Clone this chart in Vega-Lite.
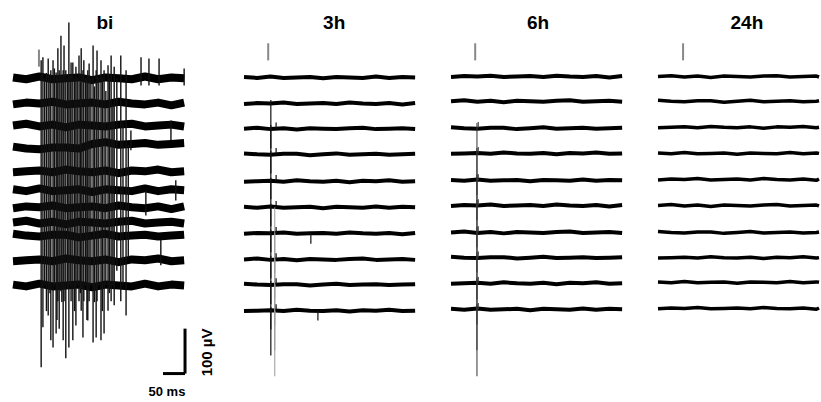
{
"$schema": "https://vega.github.io/schema/vega-lite/v6.json",
"padding": {"left": 9, "top": 13, "right": 0, "bottom": 0},
"bounds": "flush",
"spacing": 35,
"config": {"view": {"stroke": null}},
"datasets": {
"bi": [
{"s":1,"t":0,"v":0},{"s":1,"t":30,"v":-4},{"s":1,"t":60,"v":2},{"s":1,"t":90,"v":-4},{"s":1,"t":120,"v":-2},{"s":1,"t":150,"v":0},{"s":1,"t":180,"v":-6},{"s":1,"t":210,"v":0},{"s":1,"t":240,"v":-2},{"s":1,"t":270,"v":-4},{"s":1,"t":300,"v":2},{"s":1,"t":330,"v":-4},{"s":1,"t":360,"v":0},{"s":1,"t":389,"v":-2},
{"s":2,"t":0,"v":-60},{"s":2,"t":30,"v":-56},{"s":2,"t":60,"v":-58},{"s":2,"t":90,"v":-54},{"s":2,"t":120,"v":-60},{"s":2,"t":150,"v":-58},{"s":2,"t":180,"v":-56},{"s":2,"t":210,"v":-60},{"s":2,"t":240,"v":-54},{"s":2,"t":270,"v":-58},{"s":2,"t":300,"v":-60},{"s":2,"t":330,"v":-56},{"s":2,"t":360,"v":-62},{"s":2,"t":389,"v":-56},
{"s":3,"t":0,"v":-107},{"s":3,"t":30,"v":-103},{"s":3,"t":60,"v":-109},{"s":3,"t":90,"v":-105},{"s":3,"t":120,"v":-111},{"s":3,"t":150,"v":-105},{"s":3,"t":180,"v":-107},{"s":3,"t":210,"v":-109},{"s":3,"t":240,"v":-105},{"s":3,"t":270,"v":-103},{"s":3,"t":300,"v":-109},{"s":3,"t":330,"v":-107},{"s":3,"t":360,"v":-105},{"s":3,"t":389,"v":-109},
{"s":4,"t":0,"v":-154},{"s":4,"t":30,"v":-158},{"s":4,"t":60,"v":-160},{"s":4,"t":90,"v":-156},{"s":4,"t":120,"v":-156},{"s":4,"t":150,"v":-158},{"s":4,"t":180,"v":-148},{"s":4,"t":210,"v":-144},{"s":4,"t":240,"v":-150},{"s":4,"t":270,"v":-148},{"s":4,"t":300,"v":-146},{"s":4,"t":330,"v":-150},{"s":4,"t":360,"v":-148},{"s":4,"t":389,"v":-146},
{"s":5,"t":0,"v":-211},{"s":5,"t":30,"v":-209},{"s":5,"t":60,"v":-207},{"s":5,"t":90,"v":-211},{"s":5,"t":120,"v":-205},{"s":5,"t":150,"v":-209},{"s":5,"t":180,"v":-211},{"s":5,"t":210,"v":-207},{"s":5,"t":240,"v":-213},{"s":5,"t":270,"v":-207},{"s":5,"t":300,"v":-209},{"s":5,"t":330,"v":-205},{"s":5,"t":360,"v":-211},{"s":5,"t":389,"v":-209},
{"s":6,"t":0,"v":-249},{"s":6,"t":30,"v":-253},{"s":6,"t":60,"v":-247},{"s":6,"t":90,"v":-253},{"s":6,"t":120,"v":-251},{"s":6,"t":150,"v":-249},{"s":6,"t":180,"v":-255},{"s":6,"t":210,"v":-249},{"s":6,"t":240,"v":-251},{"s":6,"t":270,"v":-253},{"s":6,"t":300,"v":-247},{"s":6,"t":330,"v":-253},{"s":6,"t":360,"v":-249},{"s":6,"t":389,"v":-251},
{"s":7,"t":0,"v":-291},{"s":7,"t":30,"v":-287},{"s":7,"t":60,"v":-289},{"s":7,"t":90,"v":-285},{"s":7,"t":120,"v":-291},{"s":7,"t":150,"v":-289},{"s":7,"t":180,"v":-287},{"s":7,"t":210,"v":-291},{"s":7,"t":240,"v":-285},{"s":7,"t":270,"v":-289},{"s":7,"t":300,"v":-291},{"s":7,"t":330,"v":-287},{"s":7,"t":360,"v":-293},{"s":7,"t":389,"v":-287},
{"s":8,"t":0,"v":-323},{"s":8,"t":30,"v":-319},{"s":8,"t":60,"v":-325},{"s":8,"t":90,"v":-321},{"s":8,"t":120,"v":-327},{"s":8,"t":150,"v":-321},{"s":8,"t":180,"v":-323},{"s":8,"t":210,"v":-325},{"s":8,"t":240,"v":-321},{"s":8,"t":270,"v":-319},{"s":8,"t":300,"v":-325},{"s":8,"t":330,"v":-323},{"s":8,"t":360,"v":-321},{"s":8,"t":389,"v":-325},
{"s":9,"t":0,"v":-348},{"s":9,"t":30,"v":-352},{"s":9,"t":60,"v":-354},{"s":9,"t":90,"v":-350},{"s":9,"t":120,"v":-350},{"s":9,"t":150,"v":-356},{"s":9,"t":180,"v":-352},{"s":9,"t":210,"v":-348},{"s":9,"t":240,"v":-354},{"s":9,"t":270,"v":-352},{"s":9,"t":300,"v":-350},{"s":9,"t":330,"v":-354},{"s":9,"t":360,"v":-352},{"s":9,"t":389,"v":-350},
{"s":10,"t":0,"v":-409},{"s":10,"t":30,"v":-407},{"s":10,"t":60,"v":-405},{"s":10,"t":90,"v":-409},{"s":10,"t":120,"v":-403},{"s":10,"t":150,"v":-407},{"s":10,"t":180,"v":-409},{"s":10,"t":210,"v":-405},{"s":10,"t":240,"v":-411},{"s":10,"t":270,"v":-405},{"s":10,"t":300,"v":-407},{"s":10,"t":330,"v":-403},{"s":10,"t":360,"v":-409},{"s":10,"t":389,"v":-407},
{"s":11,"t":0,"v":-461},{"s":11,"t":30,"v":-465},{"s":11,"t":60,"v":-459},{"s":11,"t":90,"v":-465},{"s":11,"t":120,"v":-463},{"s":11,"t":150,"v":-461},{"s":11,"t":180,"v":-467},{"s":11,"t":210,"v":-461},{"s":11,"t":240,"v":-463},{"s":11,"t":270,"v":-465},{"s":11,"t":300,"v":-459},{"s":11,"t":330,"v":-465},{"s":11,"t":360,"v":-461},{"s":11,"t":389,"v":-463}
],
"h3": [
{"s":1,"t":0,"v":1},{"s":1,"t":30,"v":-1},{"s":1,"t":60,"v":2},{"s":1,"t":90,"v":-1},{"s":1,"t":120,"v":0},{"s":1,"t":150,"v":1},{"s":1,"t":180,"v":-2},{"s":1,"t":210,"v":1},{"s":1,"t":240,"v":0},{"s":1,"t":270,"v":-1},{"s":1,"t":300,"v":2},{"s":1,"t":330,"v":-1},{"s":1,"t":360,"v":1},{"s":1,"t":389,"v":0},
{"s":2,"t":0,"v":-59},{"s":2,"t":30,"v":-57},{"s":2,"t":60,"v":-58},{"s":2,"t":90,"v":-56},{"s":2,"t":120,"v":-59},{"s":2,"t":150,"v":-58},{"s":2,"t":180,"v":-57},{"s":2,"t":210,"v":-59},{"s":2,"t":240,"v":-56},{"s":2,"t":270,"v":-58},{"s":2,"t":300,"v":-59},{"s":2,"t":330,"v":-57},{"s":2,"t":360,"v":-60},{"s":2,"t":389,"v":-57},
{"s":3,"t":0,"v":-114},{"s":3,"t":30,"v":-112},{"s":3,"t":60,"v":-115},{"s":3,"t":90,"v":-113},{"s":3,"t":120,"v":-116},{"s":3,"t":150,"v":-113},{"s":3,"t":180,"v":-114},{"s":3,"t":210,"v":-115},{"s":3,"t":240,"v":-113},{"s":3,"t":270,"v":-112},{"s":3,"t":300,"v":-115},{"s":3,"t":330,"v":-114},{"s":3,"t":360,"v":-113},{"s":3,"t":389,"v":-115},
{"s":4,"t":0,"v":-169},{"s":4,"t":30,"v":-171},{"s":4,"t":60,"v":-172},{"s":4,"t":90,"v":-170},{"s":4,"t":120,"v":-170},{"s":4,"t":150,"v":-173},{"s":4,"t":180,"v":-171},{"s":4,"t":210,"v":-169},{"s":4,"t":240,"v":-172},{"s":4,"t":270,"v":-171},{"s":4,"t":300,"v":-170},{"s":4,"t":330,"v":-172},{"s":4,"t":360,"v":-171},{"s":4,"t":389,"v":-170},
{"s":5,"t":0,"v":-232},{"s":5,"t":30,"v":-231},{"s":5,"t":60,"v":-230},{"s":5,"t":90,"v":-232},{"s":5,"t":120,"v":-229},{"s":5,"t":150,"v":-231},{"s":5,"t":180,"v":-232},{"s":5,"t":210,"v":-230},{"s":5,"t":240,"v":-233},{"s":5,"t":270,"v":-230},{"s":5,"t":300,"v":-231},{"s":5,"t":330,"v":-229},{"s":5,"t":360,"v":-232},{"s":5,"t":389,"v":-231},
{"s":6,"t":0,"v":-288},{"s":6,"t":30,"v":-290},{"s":6,"t":60,"v":-287},{"s":6,"t":90,"v":-290},{"s":6,"t":120,"v":-289},{"s":6,"t":150,"v":-288},{"s":6,"t":180,"v":-291},{"s":6,"t":210,"v":-288},{"s":6,"t":240,"v":-289},{"s":6,"t":270,"v":-290},{"s":6,"t":300,"v":-287},{"s":6,"t":330,"v":-290},{"s":6,"t":360,"v":-288},{"s":6,"t":389,"v":-289},
{"s":7,"t":0,"v":-348},{"s":7,"t":30,"v":-346},{"s":7,"t":60,"v":-347},{"s":7,"t":90,"v":-345},{"s":7,"t":120,"v":-348},{"s":7,"t":150,"v":-347},{"s":7,"t":180,"v":-346},{"s":7,"t":210,"v":-348},{"s":7,"t":240,"v":-345},{"s":7,"t":270,"v":-347},{"s":7,"t":300,"v":-348},{"s":7,"t":330,"v":-346},{"s":7,"t":360,"v":-349},{"s":7,"t":389,"v":-346},
{"s":8,"t":0,"v":-405},{"s":8,"t":30,"v":-403},{"s":8,"t":60,"v":-406},{"s":8,"t":90,"v":-404},{"s":8,"t":120,"v":-407},{"s":8,"t":150,"v":-404},{"s":8,"t":180,"v":-405},{"s":8,"t":210,"v":-406},{"s":8,"t":240,"v":-404},{"s":8,"t":270,"v":-403},{"s":8,"t":300,"v":-406},{"s":8,"t":330,"v":-405},{"s":8,"t":360,"v":-404},{"s":8,"t":389,"v":-406},
{"s":9,"t":0,"v":-459},{"s":9,"t":30,"v":-461},{"s":9,"t":60,"v":-462},{"s":9,"t":90,"v":-460},{"s":9,"t":120,"v":-460},{"s":9,"t":150,"v":-463},{"s":9,"t":180,"v":-461},{"s":9,"t":210,"v":-459},{"s":9,"t":240,"v":-462},{"s":9,"t":270,"v":-461},{"s":9,"t":300,"v":-460},{"s":9,"t":330,"v":-462},{"s":9,"t":360,"v":-461},{"s":9,"t":389,"v":-460},
{"s":10,"t":0,"v":-520},{"s":10,"t":30,"v":-519},{"s":10,"t":60,"v":-518},{"s":10,"t":90,"v":-520},{"s":10,"t":120,"v":-517},{"s":10,"t":150,"v":-519},{"s":10,"t":180,"v":-520},{"s":10,"t":210,"v":-518},{"s":10,"t":240,"v":-521},{"s":10,"t":270,"v":-518},{"s":10,"t":300,"v":-519},{"s":10,"t":330,"v":-517},{"s":10,"t":360,"v":-520},{"s":10,"t":389,"v":-519}
],
"h6": [
{"s":1,"t":0,"v":1},{"s":1,"t":30,"v":3},{"s":1,"t":60,"v":2},{"s":1,"t":90,"v":4},{"s":1,"t":120,"v":1},{"s":1,"t":150,"v":2},{"s":1,"t":180,"v":3},{"s":1,"t":210,"v":1},{"s":1,"t":240,"v":4},{"s":1,"t":270,"v":2},{"s":1,"t":300,"v":1},{"s":1,"t":330,"v":3},{"s":1,"t":360,"v":0},{"s":1,"t":389,"v":3},
{"s":2,"t":0,"v":-53},{"s":2,"t":30,"v":-51},{"s":2,"t":60,"v":-54},{"s":2,"t":90,"v":-52},{"s":2,"t":120,"v":-55},{"s":2,"t":150,"v":-52},{"s":2,"t":180,"v":-53},{"s":2,"t":210,"v":-54},{"s":2,"t":240,"v":-52},{"s":2,"t":270,"v":-51},{"s":2,"t":300,"v":-54},{"s":2,"t":330,"v":-53},{"s":2,"t":360,"v":-52},{"s":2,"t":389,"v":-54},
{"s":3,"t":0,"v":-111},{"s":3,"t":30,"v":-113},{"s":3,"t":60,"v":-114},{"s":3,"t":90,"v":-112},{"s":3,"t":120,"v":-112},{"s":3,"t":150,"v":-115},{"s":3,"t":180,"v":-113},{"s":3,"t":210,"v":-111},{"s":3,"t":240,"v":-114},{"s":3,"t":270,"v":-113},{"s":3,"t":300,"v":-112},{"s":3,"t":330,"v":-114},{"s":3,"t":360,"v":-113},{"s":3,"t":389,"v":-112},
{"s":4,"t":0,"v":-170},{"s":4,"t":30,"v":-169},{"s":4,"t":60,"v":-168},{"s":4,"t":90,"v":-170},{"s":4,"t":120,"v":-167},{"s":4,"t":150,"v":-169},{"s":4,"t":180,"v":-170},{"s":4,"t":210,"v":-168},{"s":4,"t":240,"v":-171},{"s":4,"t":270,"v":-168},{"s":4,"t":300,"v":-169},{"s":4,"t":330,"v":-167},{"s":4,"t":360,"v":-170},{"s":4,"t":389,"v":-169},
{"s":5,"t":0,"v":-228},{"s":5,"t":30,"v":-230},{"s":5,"t":60,"v":-227},{"s":5,"t":90,"v":-230},{"s":5,"t":120,"v":-229},{"s":5,"t":150,"v":-228},{"s":5,"t":180,"v":-231},{"s":5,"t":210,"v":-228},{"s":5,"t":240,"v":-229},{"s":5,"t":270,"v":-230},{"s":5,"t":300,"v":-227},{"s":5,"t":330,"v":-230},{"s":5,"t":360,"v":-228},{"s":5,"t":389,"v":-229},
{"s":6,"t":0,"v":-286},{"s":6,"t":30,"v":-284},{"s":6,"t":60,"v":-285},{"s":6,"t":90,"v":-283},{"s":6,"t":120,"v":-286},{"s":6,"t":150,"v":-285},{"s":6,"t":180,"v":-284},{"s":6,"t":210,"v":-286},{"s":6,"t":240,"v":-283},{"s":6,"t":270,"v":-285},{"s":6,"t":300,"v":-286},{"s":6,"t":330,"v":-284},{"s":6,"t":360,"v":-287},{"s":6,"t":389,"v":-284},
{"s":7,"t":0,"v":-345},{"s":7,"t":30,"v":-343},{"s":7,"t":60,"v":-346},{"s":7,"t":90,"v":-344},{"s":7,"t":120,"v":-347},{"s":7,"t":150,"v":-344},{"s":7,"t":180,"v":-345},{"s":7,"t":210,"v":-346},{"s":7,"t":240,"v":-344},{"s":7,"t":270,"v":-343},{"s":7,"t":300,"v":-346},{"s":7,"t":330,"v":-345},{"s":7,"t":360,"v":-344},{"s":7,"t":389,"v":-346},
{"s":8,"t":0,"v":-399},{"s":8,"t":30,"v":-401},{"s":8,"t":60,"v":-402},{"s":8,"t":90,"v":-400},{"s":8,"t":120,"v":-400},{"s":8,"t":150,"v":-403},{"s":8,"t":180,"v":-401},{"s":8,"t":210,"v":-399},{"s":8,"t":240,"v":-402},{"s":8,"t":270,"v":-401},{"s":8,"t":300,"v":-400},{"s":8,"t":330,"v":-402},{"s":8,"t":360,"v":-401},{"s":8,"t":389,"v":-400},
{"s":9,"t":0,"v":-459},{"s":9,"t":30,"v":-458},{"s":9,"t":60,"v":-457},{"s":9,"t":90,"v":-459},{"s":9,"t":120,"v":-456},{"s":9,"t":150,"v":-458},{"s":9,"t":180,"v":-459},{"s":9,"t":210,"v":-457},{"s":9,"t":240,"v":-460},{"s":9,"t":270,"v":-457},{"s":9,"t":300,"v":-458},{"s":9,"t":330,"v":-456},{"s":9,"t":360,"v":-459},{"s":9,"t":389,"v":-458},
{"s":10,"t":0,"v":-515},{"s":10,"t":30,"v":-517},{"s":10,"t":60,"v":-514},{"s":10,"t":90,"v":-517},{"s":10,"t":120,"v":-516},{"s":10,"t":150,"v":-515},{"s":10,"t":180,"v":-518},{"s":10,"t":210,"v":-515},{"s":10,"t":240,"v":-516},{"s":10,"t":270,"v":-517},{"s":10,"t":300,"v":-514},{"s":10,"t":330,"v":-517},{"s":10,"t":360,"v":-515},{"s":10,"t":389,"v":-516}
],
"h24": [
{"s":1,"t":0,"v":2},{"s":1,"t":30,"v":4},{"s":1,"t":60,"v":1},{"s":1,"t":90,"v":3},{"s":1,"t":120,"v":0},{"s":1,"t":150,"v":3},{"s":1,"t":180,"v":2},{"s":1,"t":210,"v":1},{"s":1,"t":240,"v":3},{"s":1,"t":270,"v":4},{"s":1,"t":300,"v":1},{"s":1,"t":330,"v":2},{"s":1,"t":360,"v":3},{"s":1,"t":366,"v":1},
{"s":2,"t":0,"v":-51},{"s":2,"t":30,"v":-53},{"s":2,"t":60,"v":-54},{"s":2,"t":90,"v":-52},{"s":2,"t":120,"v":-52},{"s":2,"t":150,"v":-55},{"s":2,"t":180,"v":-53},{"s":2,"t":210,"v":-51},{"s":2,"t":240,"v":-54},{"s":2,"t":270,"v":-53},{"s":2,"t":300,"v":-52},{"s":2,"t":330,"v":-54},{"s":2,"t":360,"v":-53},{"s":2,"t":366,"v":-52},
{"s":3,"t":0,"v":-112},{"s":3,"t":30,"v":-111},{"s":3,"t":60,"v":-110},{"s":3,"t":90,"v":-112},{"s":3,"t":120,"v":-109},{"s":3,"t":150,"v":-111},{"s":3,"t":180,"v":-112},{"s":3,"t":210,"v":-110},{"s":3,"t":240,"v":-113},{"s":3,"t":270,"v":-110},{"s":3,"t":300,"v":-111},{"s":3,"t":330,"v":-109},{"s":3,"t":360,"v":-112},{"s":3,"t":366,"v":-111},
{"s":4,"t":0,"v":-168},{"s":4,"t":30,"v":-170},{"s":4,"t":60,"v":-167},{"s":4,"t":90,"v":-170},{"s":4,"t":120,"v":-169},{"s":4,"t":150,"v":-168},{"s":4,"t":180,"v":-171},{"s":4,"t":210,"v":-168},{"s":4,"t":240,"v":-169},{"s":4,"t":270,"v":-170},{"s":4,"t":300,"v":-167},{"s":4,"t":330,"v":-170},{"s":4,"t":360,"v":-168},{"s":4,"t":366,"v":-169},
{"s":5,"t":0,"v":-228},{"s":5,"t":30,"v":-226},{"s":5,"t":60,"v":-227},{"s":5,"t":90,"v":-225},{"s":5,"t":120,"v":-228},{"s":5,"t":150,"v":-227},{"s":5,"t":180,"v":-226},{"s":5,"t":210,"v":-228},{"s":5,"t":240,"v":-225},{"s":5,"t":270,"v":-227},{"s":5,"t":300,"v":-228},{"s":5,"t":330,"v":-226},{"s":5,"t":360,"v":-229},{"s":5,"t":366,"v":-226},
{"s":6,"t":0,"v":-285},{"s":6,"t":30,"v":-283},{"s":6,"t":60,"v":-286},{"s":6,"t":90,"v":-284},{"s":6,"t":120,"v":-287},{"s":6,"t":150,"v":-284},{"s":6,"t":180,"v":-285},{"s":6,"t":210,"v":-286},{"s":6,"t":240,"v":-284},{"s":6,"t":270,"v":-283},{"s":6,"t":300,"v":-286},{"s":6,"t":330,"v":-285},{"s":6,"t":360,"v":-284},{"s":6,"t":366,"v":-286},
{"s":7,"t":0,"v":-343},{"s":7,"t":30,"v":-345},{"s":7,"t":60,"v":-346},{"s":7,"t":90,"v":-344},{"s":7,"t":120,"v":-344},{"s":7,"t":150,"v":-347},{"s":7,"t":180,"v":-345},{"s":7,"t":210,"v":-343},{"s":7,"t":240,"v":-346},{"s":7,"t":270,"v":-345},{"s":7,"t":300,"v":-344},{"s":7,"t":330,"v":-346},{"s":7,"t":360,"v":-345},{"s":7,"t":366,"v":-344},
{"s":8,"t":0,"v":-402},{"s":8,"t":30,"v":-401},{"s":8,"t":60,"v":-400},{"s":8,"t":90,"v":-402},{"s":8,"t":120,"v":-399},{"s":8,"t":150,"v":-401},{"s":8,"t":180,"v":-402},{"s":8,"t":210,"v":-400},{"s":8,"t":240,"v":-403},{"s":8,"t":270,"v":-400},{"s":8,"t":300,"v":-401},{"s":8,"t":330,"v":-399},{"s":8,"t":360,"v":-402},{"s":8,"t":366,"v":-401},
{"s":9,"t":0,"v":-455},{"s":9,"t":30,"v":-457},{"s":9,"t":60,"v":-454},{"s":9,"t":90,"v":-457},{"s":9,"t":120,"v":-456},{"s":9,"t":150,"v":-455},{"s":9,"t":180,"v":-458},{"s":9,"t":210,"v":-455},{"s":9,"t":240,"v":-456},{"s":9,"t":270,"v":-457},{"s":9,"t":300,"v":-454},{"s":9,"t":330,"v":-457},{"s":9,"t":360,"v":-455},{"s":9,"t":366,"v":-456},
{"s":10,"t":0,"v":-515},{"s":10,"t":30,"v":-513},{"s":10,"t":60,"v":-514},{"s":10,"t":90,"v":-512},{"s":10,"t":120,"v":-515},{"s":10,"t":150,"v":-514},{"s":10,"t":180,"v":-513},{"s":10,"t":210,"v":-515},{"s":10,"t":240,"v":-512},{"s":10,"t":270,"v":-514},{"s":10,"t":300,"v":-515},{"s":10,"t":330,"v":-513},{"s":10,"t":360,"v":-516},{"s":10,"t":366,"v":-513}
],
"biSpikes": [
{"t":64,"v":38,"v2":-645},{"t":68,"v":45,"v2":-556},{"t":80,"v":42,"v2":-530},{"t":86,"v":16,"v2":-585},{"t":91,"v":38,"v2":-601},{"t":98,"v":11,"v2":-570},{"t":102,"v":65,"v2":-498},{"t":105,"v":16,"v2":-559},{"t":109,"v":93,"v2":-476},{"t":114,"v":16,"v2":-585},{"t":116,"v":71,"v2":-498},{"t":120,"v":16,"v2":-625},{"t":127,"v":122,"v2":-601},{"t":132,"v":33,"v2":-498},{"t":136,"v":33,"v2":-585},{"t":143,"v":24,"v2":-552},{"t":150,"v":49,"v2":-498},{"t":155,"v":65,"v2":-519},{"t":159,"v":16,"v2":-579},{"t":161,"v":38,"v2":-498},{"t":170,"v":16,"v2":-541},{"t":173,"v":31,"v2":-498},{"t":182,"v":71,"v2":-590},{"t":189,"v":16,"v2":-579},{"t":191,"v":60,"v2":-498},{"t":200,"v":38,"v2":-585},{"t":207,"v":16,"v2":-570},{"t":216,"v":27,"v2":-519},{"t":223,"v":49,"v2":-498},{"t":230,"v":24,"v2":-507},{"t":245,"v":49,"v2":-498},{"t":257,"v":16,"v2":-530},
{"t":72,"v":-2,"v2":-463},{"t":76,"v":10,"v2":-520},{"t":84,"v":-2,"v2":-480},{"t":94,"v":20,"v2":-463},{"t":100,"v":-2,"v2":-540},{"t":111,"v":0,"v2":-500},{"t":124,"v":-2,"v2":-470},{"t":130,"v":5,"v2":-463},{"t":140,"v":-2,"v2":-520},{"t":146,"v":0,"v2":-463},{"t":153,"v":-10,"v2":-480},{"t":165,"v":-2,"v2":-463},{"t":168,"v":0,"v2":-540},{"t":177,"v":-2,"v2":-463},{"t":185,"v":-20,"v2":-500},{"t":195,"v":-2,"v2":-463},{"t":203,"v":0,"v2":-520},{"t":211,"v":-30,"v2":-463},{"t":219,"v":-2,"v2":-480},{"t":227,"v":-60,"v2":-463},{"t":236,"v":-2,"v2":-430},{"t":250,"v":-100,"v2":-463},{"t":262,"v":-150,"v2":-400},
{"t":291,"v":45,"v2":-18},{"t":309,"v":42,"v2":-18},{"t":332,"v":42,"v2":-18},{"t":389,"v":20,"v2":-18},{"t":302,"v":-251,"v2":-307},{"t":336,"v":-362,"v2":-418},{"t":359,"v":-96,"v2":-140},{"t":370,"v":-229,"v2":-274},{"t":268,"v":-118,"v2":-162}
],
"h3Spikes": [
{"t":61,"v":-50,"v2":-158},{"t":61,"v":-106,"v2":-214},{"t":61,"v":-163,"v2":-271},{"t":61,"v":-223,"v2":-331},{"t":61,"v":-281,"v2":-389},{"t":61,"v":-339,"v2":-447},{"t":61,"v":-397,"v2":-505},{"t":61,"v":-453,"v2":-561},{"t":61,"v":-511,"v2":-619},
{"t":73,"v":-114,"v2":-100},{"t":73,"v":-171,"v2":-157},{"t":73,"v":-231,"v2":-217},{"t":73,"v":-289,"v2":-275},{"t":73,"v":-347,"v2":-333},{"t":73,"v":-405,"v2":-391},{"t":73,"v":-461,"v2":-447},{"t":73,"v":-519,"v2":-505},
{"t":152,"v":-347,"v2":-370},{"t":168,"v":-519,"v2":-541}
],
"h3Light": [
{"t":70,"v":-289,"v2":-435},{"t":70,"v":-347,"v2":-493},{"t":70,"v":-405,"v2":-551},{"t":70,"v":-461,"v2":-607},{"t":70,"v":-519,"v2":-665}
],
"h6Spikes": [
{"t":59,"v":-101,"v2":-262},{"t":59,"v":-157,"v2":-318},{"t":59,"v":-217,"v2":-378},{"t":59,"v":-273,"v2":-434},{"t":59,"v":-333,"v2":-494},{"t":59,"v":-389,"v2":-550},{"t":59,"v":-446,"v2":-607},{"t":59,"v":-504,"v2":-665},
{"t":62,"v":-113,"v2":-99},{"t":62,"v":-169,"v2":-155},{"t":62,"v":-229,"v2":-215},{"t":62,"v":-285,"v2":-271},{"t":62,"v":-345,"v2":-331},{"t":62,"v":-401,"v2":-387},{"t":62,"v":-458,"v2":-444},{"t":62,"v":-516,"v2":-502}
],
"stim": [
{"p":"bi","t":59,"v":62,"v2":24},{"p":"3h","t":55,"v":76,"v2":38},{"p":"6h","t":55,"v":76,"v2":38},{"p":"24h","t":57,"v":76,"v2":38}
],
"labels": [
{"p":"bi","label":"bi","t":209,"v":108},{"p":"3h","label":"3h","t":205,"v":108},{"p":"6h","label":"6h","t":198,"v":108},{"p":"24h","label":"24h","t":202,"v":108}
],
"bar": [
{"t":391,"t2":391,"v":-659,"v2":-559},{"t":341,"t2":391,"v":-659,"v2":-659}
]
},
"hconcat": [
{
"width": 196, "height": 346,
"layer": [
{"data": {"name": "bi"}, "mark": {"type": "line", "color": "#000", "strokeWidth": 8, "strokeJoin": "round"},
 "encoding": {"x": {"field": "t", "type": "quantitative", "scale": {"domain": [0, 445.5], "nice": false, "zero": false}, "axis": null},
  "y": {"field": "v", "type": "quantitative", "scale": {"domain": [-680, 90], "nice": false, "zero": false}, "axis": null},
  "detail": {"field": "s"}}},
{"data": {"name": "biSpikes"}, "mark": {"type": "rule", "color": "#111", "strokeWidth": 1.4},
 "encoding": {"x": {"field": "t", "type": "quantitative", "scale": {"domain": [0, 445.5], "nice": false, "zero": false}, "axis": null},
  "y": {"field": "v", "type": "quantitative", "scale": {"domain": [-680, 90], "nice": false, "zero": false}, "axis": null},
  "y2": {"field": "v2"}}},
{"data": {"name": "stim"}, "transform": [{"filter": {"field": "p", "equal": "bi"}}], "mark": {"type": "rule", "color": "#888", "strokeWidth": 2},
 "encoding": {"x": {"field": "t", "type": "quantitative", "scale": {"domain": [0, 445.5], "nice": false, "zero": false}, "axis": null},
  "y": {"field": "v", "type": "quantitative", "scale": {"domain": [-680, 90], "nice": false, "zero": false}, "axis": null},
  "y2": {"field": "v2"}}},
{"data": {"name": "bar"}, "mark": {"type": "rule", "color": "#000", "strokeWidth": 3},
 "encoding": {"x": {"field": "t", "type": "quantitative", "scale": {"domain": [0, 445.5], "nice": false, "zero": false}, "axis": null},
  "x2": {"field": "t2"},
  "y": {"field": "v", "type": "quantitative", "scale": {"domain": [-680, 90], "nice": false, "zero": false}, "axis": null},
  "y2": {"field": "v2"}}},
{"data": {"values": [{"label": "50 ms", "t": 350, "v": -708}]}, "mark": {"type": "text", "font": "Liberation Sans", "fontWeight": "bold", "fontSize": 13, "align": "center", "baseline": "alphabetic", "color": "#000"},
 "encoding": {"x": {"field": "t", "type": "quantitative", "scale": {"domain": [0, 445.5], "nice": false, "zero": false}, "axis": null},
  "y": {"field": "v", "type": "quantitative", "scale": {"domain": [-680, 90], "nice": false, "zero": false}, "axis": null},
  "text": {"field": "label"}}},
{"data": {"values": [{"label": "100 µV", "t": 441, "v": -612}]}, "mark": {"type": "text", "font": "Liberation Sans", "fontWeight": "bold", "fontSize": 15, "align": "center", "baseline": "middle", "angle": 270, "color": "#000"},
 "encoding": {"x": {"field": "t", "type": "quantitative", "scale": {"domain": [0, 445.5], "nice": false, "zero": false}, "axis": null},
  "y": {"field": "v", "type": "quantitative", "scale": {"domain": [-680, 90], "nice": false, "zero": false}, "axis": null},
  "text": {"field": "label"}}},
{"data": {"name": "labels"}, "transform": [{"filter": {"field": "p", "equal": "bi"}}], "mark": {"type": "text", "font": "Liberation Sans", "fontWeight": "bold", "fontSize": 19, "align": "center", "baseline": "alphabetic", "color": "#000"},
 "encoding": {"x": {"field": "t", "type": "quantitative", "scale": {"domain": [0, 445.5], "nice": false, "zero": false}, "axis": null},
  "y": {"field": "v", "type": "quantitative", "scale": {"domain": [-680, 90], "nice": false, "zero": false}, "axis": null},
  "text": {"field": "label"}}}
]
},
{
"width": 172, "height": 346,
"layer": [
{"data": {"name": "h3"}, "mark": {"type": "line", "color": "#000", "strokeWidth": 4, "strokeJoin": "round"},
 "encoding": {"x": {"field": "t", "type": "quantitative", "scale": {"domain": [0, 391], "nice": false, "zero": false}, "axis": null},
  "y": {"field": "v", "type": "quantitative", "scale": {"domain": [-680, 90], "nice": false, "zero": false}, "axis": null},
  "detail": {"field": "s"}}},
{"data": {"name": "h3Light"}, "mark": {"type": "rule", "color": "#999", "strokeWidth": 1},
 "encoding": {"x": {"field": "t", "type": "quantitative", "scale": {"domain": [0, 391], "nice": false, "zero": false}, "axis": null},
  "y": {"field": "v", "type": "quantitative", "scale": {"domain": [-680, 90], "nice": false, "zero": false}, "axis": null},
  "y2": {"field": "v2"}}},
{"data": {"name": "h3Spikes"}, "mark": {"type": "rule", "color": "#111", "strokeWidth": 1.2},
 "encoding": {"x": {"field": "t", "type": "quantitative", "scale": {"domain": [0, 391], "nice": false, "zero": false}, "axis": null},
  "y": {"field": "v", "type": "quantitative", "scale": {"domain": [-680, 90], "nice": false, "zero": false}, "axis": null},
  "y2": {"field": "v2"}}},
{"data": {"name": "stim"}, "transform": [{"filter": {"field": "p", "equal": "3h"}}], "mark": {"type": "rule", "color": "#888", "strokeWidth": 2},
 "encoding": {"x": {"field": "t", "type": "quantitative", "scale": {"domain": [0, 391], "nice": false, "zero": false}, "axis": null},
  "y": {"field": "v", "type": "quantitative", "scale": {"domain": [-680, 90], "nice": false, "zero": false}, "axis": null},
  "y2": {"field": "v2"}}},
{"data": {"name": "labels"}, "transform": [{"filter": {"field": "p", "equal": "3h"}}], "mark": {"type": "text", "font": "Liberation Sans", "fontWeight": "bold", "fontSize": 19, "align": "center", "baseline": "alphabetic", "color": "#000"},
 "encoding": {"x": {"field": "t", "type": "quantitative", "scale": {"domain": [0, 391], "nice": false, "zero": false}, "axis": null},
  "y": {"field": "v", "type": "quantitative", "scale": {"domain": [-680, 90], "nice": false, "zero": false}, "axis": null},
  "text": {"field": "label"}}}
]
},
{
"width": 172, "height": 346,
"layer": [
{"data": {"name": "h6"}, "mark": {"type": "line", "color": "#000", "strokeWidth": 4, "strokeJoin": "round"},
 "encoding": {"x": {"field": "t", "type": "quantitative", "scale": {"domain": [0, 391], "nice": false, "zero": false}, "axis": null},
  "y": {"field": "v", "type": "quantitative", "scale": {"domain": [-680, 90], "nice": false, "zero": false}, "axis": null},
  "detail": {"field": "s"}}},
{"data": {"name": "h6Spikes"}, "mark": {"type": "rule", "color": "#333", "strokeWidth": 1},
 "encoding": {"x": {"field": "t", "type": "quantitative", "scale": {"domain": [0, 391], "nice": false, "zero": false}, "axis": null},
  "y": {"field": "v", "type": "quantitative", "scale": {"domain": [-680, 90], "nice": false, "zero": false}, "axis": null},
  "y2": {"field": "v2"}}},
{"data": {"name": "stim"}, "transform": [{"filter": {"field": "p", "equal": "6h"}}], "mark": {"type": "rule", "color": "#888", "strokeWidth": 2},
 "encoding": {"x": {"field": "t", "type": "quantitative", "scale": {"domain": [0, 391], "nice": false, "zero": false}, "axis": null},
  "y": {"field": "v", "type": "quantitative", "scale": {"domain": [-680, 90], "nice": false, "zero": false}, "axis": null},
  "y2": {"field": "v2"}}},
{"data": {"name": "labels"}, "transform": [{"filter": {"field": "p", "equal": "6h"}}], "mark": {"type": "text", "font": "Liberation Sans", "fontWeight": "bold", "fontSize": 19, "align": "center", "baseline": "alphabetic", "color": "#000"},
 "encoding": {"x": {"field": "t", "type": "quantitative", "scale": {"domain": [0, 391], "nice": false, "zero": false}, "axis": null},
  "y": {"field": "v", "type": "quantitative", "scale": {"domain": [-680, 90], "nice": false, "zero": false}, "axis": null},
  "text": {"field": "label"}}}
]
},
{
"width": 162, "height": 346,
"layer": [
{"data": {"name": "h24"}, "mark": {"type": "line", "color": "#000", "strokeWidth": 3.5, "strokeJoin": "round"},
 "encoding": {"x": {"field": "t", "type": "quantitative", "scale": {"domain": [0, 368.2], "nice": false, "zero": false}, "axis": null},
  "y": {"field": "v", "type": "quantitative", "scale": {"domain": [-680, 90], "nice": false, "zero": false}, "axis": null},
  "detail": {"field": "s"}}},
{"data": {"name": "stim"}, "transform": [{"filter": {"field": "p", "equal": "24h"}}], "mark": {"type": "rule", "color": "#888", "strokeWidth": 2},
 "encoding": {"x": {"field": "t", "type": "quantitative", "scale": {"domain": [0, 368.2], "nice": false, "zero": false}, "axis": null},
  "y": {"field": "v", "type": "quantitative", "scale": {"domain": [-680, 90], "nice": false, "zero": false}, "axis": null},
  "y2": {"field": "v2"}}},
{"data": {"name": "labels"}, "transform": [{"filter": {"field": "p", "equal": "24h"}}], "mark": {"type": "text", "font": "Liberation Sans", "fontWeight": "bold", "fontSize": 19, "align": "center", "baseline": "alphabetic", "color": "#000"},
 "encoding": {"x": {"field": "t", "type": "quantitative", "scale": {"domain": [0, 368.2], "nice": false, "zero": false}, "axis": null},
  "y": {"field": "v", "type": "quantitative", "scale": {"domain": [-680, 90], "nice": false, "zero": false}, "axis": null},
  "text": {"field": "label"}}}
]
}
]
}
